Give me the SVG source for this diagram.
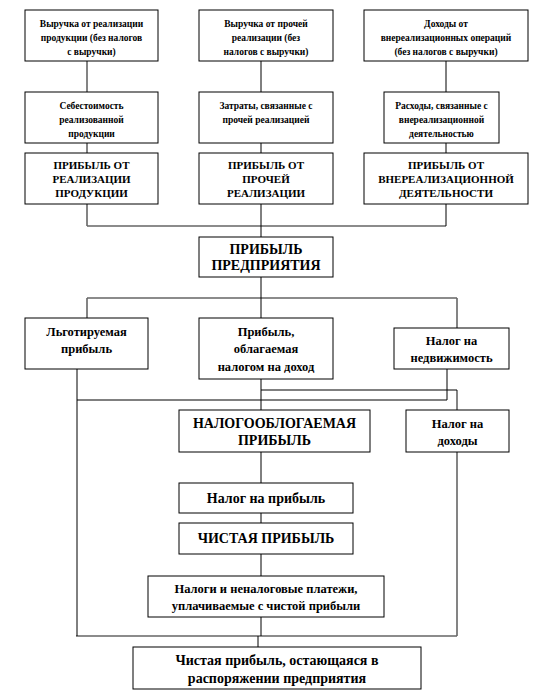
<svg xmlns="http://www.w3.org/2000/svg" width="549" height="699" viewBox="0 0 549 699">
<style>
.box{fill:#fff;stroke:#000;stroke-width:1}
text{font-family:'Liberation Serif','Times New Roman',Times,serif;font-weight:bold;fill:#000;text-anchor:middle}
.s{font-size:9.5px}
.c{font-size:11px}
.m{font-size:12.5px}
.l{font-size:14px}
.ln{stroke:#000;stroke-width:1;fill:none}
.g{stroke:#666;stroke-width:1.6;fill:none}
</style>
<rect width="549" height="699" fill="#fff"/>
<g id="connectors">
<path class="g" d="M87 61V92M87 143V153M87 204V226M87 226H446M87 298H457M87 298V318M457 298V328M457 390V410M457 452V636M76 636H457"/>
<path class="ln" d="M261 61V92M261 143V153M446 61V92M446 143V153M446 204V226M261 204V237M261 277V318M77 369V636M77 400H447M447 369V400M261 379V410M261 390H457M261 452V483M261 513V523M261 554V576M261 617V636M258 636V647"/>
</g>
<g font-family="Liberation Serif, serif">
<g id="n1"><rect class="box" x="25" y="10" width="133" height="51"/><text class="s"><tspan x="91.5" y="27">Выручка от реализации</tspan><tspan x="91.5" y="41">продукции (без налогов</tspan><tspan x="91.5" y="55">с выручки)</tspan></text></g>
<g id="n2"><rect class="box" x="199" y="10" width="134" height="51"/><text class="s"><tspan x="266" y="27">Выручка от прочей</tspan><tspan x="266" y="41">реализации (без</tspan><tspan x="266" y="55">налогов с выручки)</tspan></text></g>
<g id="n3"><rect class="box" x="364" y="10" width="164" height="51"/><text class="s"><tspan x="446" y="27">Доходы от</tspan><tspan x="446" y="41">внереализационных операций</tspan><tspan x="446" y="55">(без налогов с выручки)</tspan></text></g>
<g id="n4"><rect class="box" x="25" y="92" width="133" height="51"/><text class="s"><tspan x="91.5" y="109">Себестоимость</tspan><tspan x="91.5" y="123">реализованной</tspan><tspan x="91.5" y="137">продукции</tspan></text></g>
<g id="n5"><rect class="box" x="199" y="92" width="134" height="51"/><text class="s"><tspan x="266" y="109">Затраты, связанные с</tspan><tspan x="266" y="123">прочей реализацией</tspan></text></g>
<g id="n6"><rect class="box" x="384" y="92" width="115" height="51"/><text class="s"><tspan x="441.5" y="109">Расходы, связанные с</tspan><tspan x="441.5" y="123">внереализационной</tspan><tspan x="441.5" y="137">деятельностью</tspan></text></g>
<g id="n7"><rect class="box" x="25" y="153" width="133" height="51"/><text class="c"><tspan x="91.5" y="169">ПРИБЫЛЬ ОТ</tspan><tspan x="91.5" y="183">РЕАЛИЗАЦИИ</tspan><tspan x="91.5" y="197">ПРОДУКЦИИ</tspan></text></g>
<g id="n8"><rect class="box" x="199" y="153" width="134" height="51"/><text class="c"><tspan x="266" y="169">ПРИБЫЛЬ ОТ</tspan><tspan x="266" y="183">ПРОЧЕЙ</tspan><tspan x="266" y="197">РЕАЛИЗАЦИИ</tspan></text></g>
<g id="n9"><rect class="box" x="364" y="153" width="164" height="51"/><text class="c"><tspan x="446" y="169">ПРИБЫЛЬ ОТ</tspan><tspan x="446" y="183">ВНЕРЕАЛИЗАЦИОННОЙ</tspan><tspan x="446" y="197">ДЕЯТЕЛЬНОСТИ</tspan></text></g>
<g id="n10"><rect class="box" x="199" y="237" width="134" height="40"/><text class="l"><tspan x="266" y="254">ПРИБЫЛЬ</tspan><tspan x="266" y="270">ПРЕДПРИЯТИЯ</tspan></text></g>
<g id="n11"><rect class="box" x="25" y="318" width="123" height="51"/><text class="m"><tspan x="86.5" y="336">Льготируемая</tspan><tspan x="86.5" y="353">прибыль</tspan></text></g>
<g id="n12"><rect class="box" x="199" y="318" width="134" height="61"/><text class="m"><tspan x="266" y="336">Прибыль,</tspan><tspan x="266" y="353">облагаемая</tspan><tspan x="266" y="371">налогом на доход</tspan></text></g>
<g id="n13"><rect class="box" x="394" y="328" width="115" height="41"/><text class="m"><tspan x="451.5" y="345">Налог на</tspan><tspan x="451.5" y="362">недвижимость</tspan></text></g>
<g id="n14"><rect class="box" x="179" y="410" width="191" height="42"/><text class="l"><tspan x="274.5" y="428">НАЛОГООБЛОГАЕМАЯ</tspan><tspan x="274.5" y="445">ПРИБЫЛЬ</tspan></text></g>
<g id="n15"><rect class="box" x="406" y="410" width="103" height="42"/><text class="m"><tspan x="457.5" y="428">Налог на</tspan><tspan x="457.5" y="445">доходы</tspan></text></g>
<g id="n16"><rect class="box" x="179" y="483" width="174" height="30"/><text class="l" x="266" y="503">Налог на прибыль</text></g>
<g id="n17"><rect class="box" x="179" y="523" width="174" height="31"/><text class="l" x="266" y="543">ЧИСТАЯ  ПРИБЫЛЬ</text></g>
<g id="n18"><rect class="box" x="148" y="576" width="236" height="41"/><text class="m"><tspan x="266" y="593">Налоги и неналоговые платежи,</tspan><tspan x="266" y="610">уплачиваемые с чистой прибыли</tspan></text></g>
<g id="n19"><rect class="box" x="133" y="647" width="288" height="42"/><text class="l"><tspan x="277" y="665">Чистая прибыль, остающаяся в</tspan><tspan x="277" y="683">распоряжении предприятия</tspan></text></g>
</g>
</svg>
